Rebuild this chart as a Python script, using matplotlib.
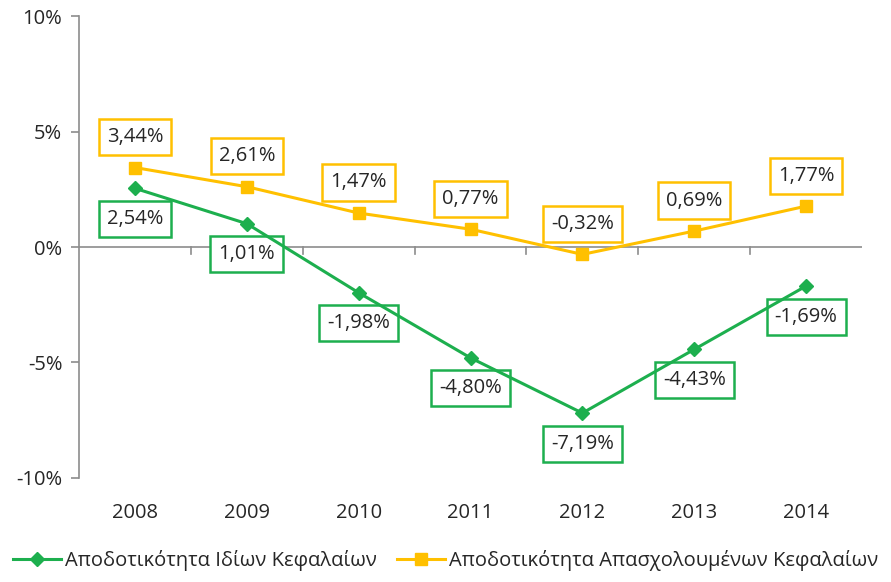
import matplotlib
matplotlib.use("Agg")
import matplotlib.pyplot as plt
from matplotlib.ticker import FuncFormatter

years = ["2008", "2009", "2010", "2011", "2012", "2013", "2014"]
roe = [2.54, 1.01, -1.98, -4.80, -7.19, -4.43, -1.69]
roce = [3.44, 2.61, 1.47, 0.77, -0.32, 0.69, 1.77]
name_roe = "Αποδοτικότητα Ιδίων Κεφαλαίων"
name_roce = "Αποδοτικότητα Απασχολουμένων Κεφαλαίων"

green = "#1DAF4E"
orange = "#FFC000"
txt = "#262626"

plt.rcParams['font.family'] = ['Open Sans', 'DejaVu Sans']

fig = plt.figure(figsize=(8.91, 5.82), dpi=100)
ax = fig.add_axes([0.0887, 0.1787, 0.8788, 0.7938])

x = list(range(len(years)))
ax.plot(x, roe, color=green, lw=2.2, marker='D', ms=7, label=name_roe, zorder=6)
ax.plot(x, roce, color=orange, lw=2.2, marker='s', ms=8.5, label=name_roce, zorder=6)

def fmt(v):
    return f"{v:.2f}%".replace(".", ",")

for xi, v in zip(x, roe):
    ax.annotate(fmt(v), (xi, v), xytext=(0, -22), textcoords='offset points',
                ha='center', va='center', fontsize=14.5, color=txt, zorder=4,
                bbox=dict(boxstyle='square,pad=0.4', fc='white', ec=green, lw=1.8))
for xi, v in zip(x, roce):
    ax.annotate(fmt(v), (xi, v), xytext=(0, 22), textcoords='offset points',
                ha='center', va='center', fontsize=14.5, color=txt, zorder=4,
                bbox=dict(boxstyle='square,pad=0.4', fc='white', ec=orange, lw=1.8))

ax.set_ylim(-10, 10)
ax.set_xlim(-0.5, len(years) - 0.5)
ax.set_yticks([-10, -5, 0, 5, 10])
ax.yaxis.set_major_formatter(FuncFormatter(lambda v, p: f"{int(v)}%"))

for s in ['top', 'right', 'bottom']:
    ax.spines[s].set_visible(False)
ax.spines['left'].set_color('#8c8c8c')
ax.spines['left'].set_linewidth(1.2)
ax.axhline(0, color='#8c8c8c', lw=1.2, zorder=1)
for b in [i + 0.5 for i in range(len(years) - 1)]:
    ax.plot([b, b], [0, -0.3], color='#8c8c8c', lw=1.2, zorder=1)

ax.tick_params(axis='y', length=6, width=1.2, color='#8c8c8c', labelsize=14.5, labelcolor=txt, pad=6)
ax.set_xticks(x)
ax.set_xticklabels(years)
ax.tick_params(axis='x', length=0, labelsize=14.5, labelcolor=txt, pad=18)

leg = fig.legend(loc='lower center', bbox_to_anchor=(0.5, -0.012), ncol=2, frameon=False,
                 fontsize=14.5, handlelength=2.4, columnspacing=1.0, handletextpad=0.2,
                 labelcolor=txt)

fig.savefig("out.png", dpi=100)
